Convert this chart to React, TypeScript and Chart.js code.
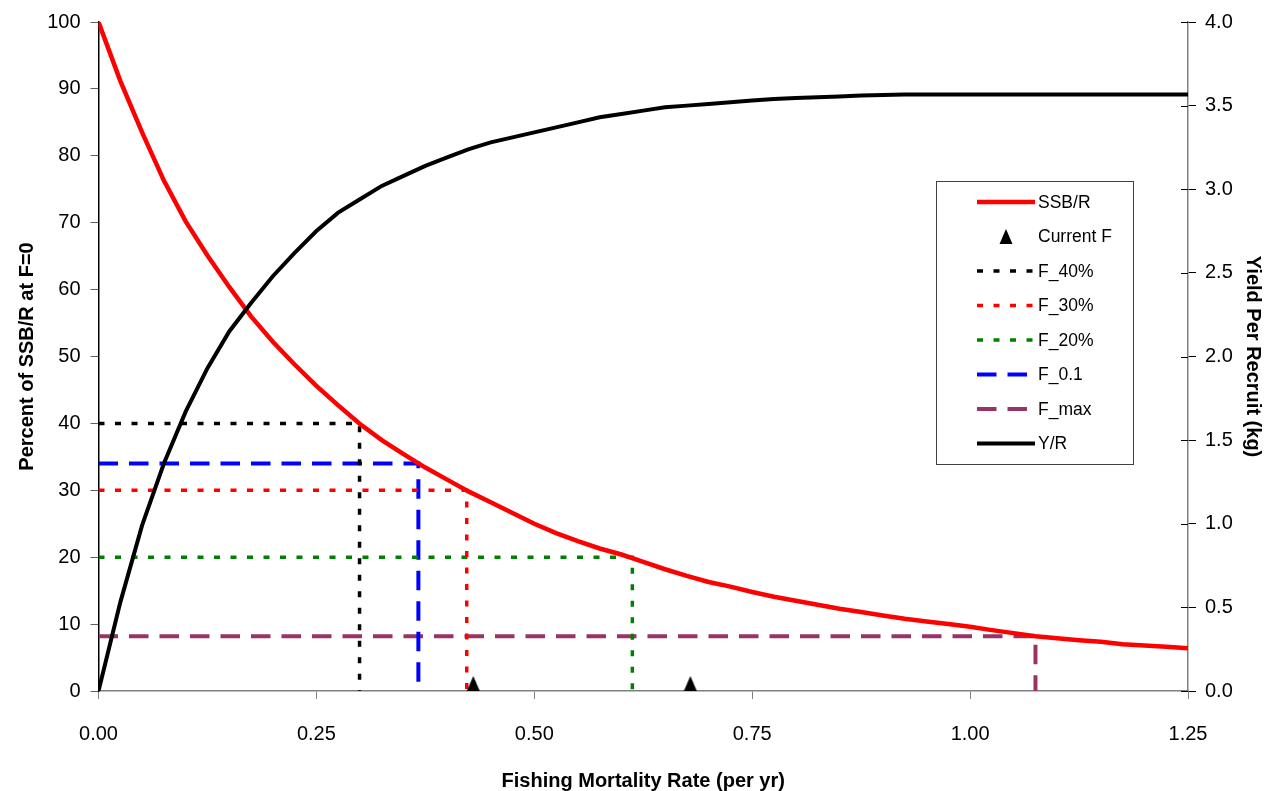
import React, { useEffect, useRef } from 'react';
import { Chart, registerables } from 'chart.js';

Chart.register(...registerables);

// ---- data ----
const F_GRID = [
  0, 0.025, 0.05, 0.075, 0.1, 0.125, 0.15, 0.175, 0.2, 0.225,
  0.25, 0.275, 0.3, 0.325, 0.35, 0.375, 0.4, 0.425, 0.45, 0.475,
  0.5, 0.525, 0.55, 0.575, 0.6, 0.625, 0.65, 0.675, 0.7, 0.725,
  0.75, 0.775, 0.8, 0.825, 0.85, 0.875, 0.9, 0.925, 0.95, 0.975,
  1.0, 1.025, 1.05, 1.075, 1.1, 1.125, 1.15, 1.175, 1.2, 1.225, 1.25,
];
const SSB_PCT = [
  100, 91.2, 83.5, 76.3, 70.2, 65.1, 60.4, 56.0, 52.2, 48.8,
  45.6, 42.7, 39.9, 37.5, 35.4, 33.4, 31.6, 29.8, 28.2, 26.6,
  25.0, 23.6, 22.4, 21.3, 20.4, 19.3, 18.2, 17.2, 16.3, 15.6,
  14.8, 14.1, 13.5, 12.9, 12.3, 11.8, 11.3, 10.8, 10.4, 10.0,
  9.6, 9.1, 8.65, 8.2, 7.9, 7.6, 7.35, 7.0, 6.8, 6.6, 6.4,
];
const YPR_KG = [
  0, 0.53, 0.99, 1.36, 1.67, 1.93, 2.15, 2.32, 2.48, 2.62,
  2.75, 2.86, 2.94, 3.02, 3.08, 3.14, 3.19, 3.24, 3.28, 3.31,
  3.34, 3.37, 3.40, 3.43, 3.45, 3.47, 3.49, 3.50, 3.51, 3.52,
  3.53, 3.54, 3.545, 3.55, 3.555, 3.56, 3.563, 3.567, 3.567, 3.567,
  3.567, 3.567, 3.567, 3.567, 3.567, 3.567, 3.567, 3.567, 3.567, 3.567, 3.567,
];
const CURRENT_F = [0.43, 0.679];
const REF_LABELS = ['F_40%', 'F_30%', 'F_20%', 'F_0.1', 'F_max'];
const REF_F = [0.2995, 0.4225, 0.6125, 0.367, 1.075];
const REF_PCT = [40, 30, 20, 34, 8.2];

// ---- styles ----
const REF_COLORS = ['#000000', '#FF0000', '#008000', '#0000FF', '#993366'];
const REF_DASH = [[6, 10.5], [6, 10.5], [6, 10.5], [19.5, 11], [19.5, 11]];
const REF_WIDTH = [3.5, 3.5, 3.5, 4, 4];

const FONT = '"Liberation Sans", Arial, sans-serif';

function makeTriangle(): HTMLCanvasElement {
  const c = document.createElement('canvas');
  c.width = 14;
  c.height = 30;
  const g = c.getContext('2d')!;
  g.fillStyle = '#000';
  g.beginPath();
  g.moveTo(7, 0);
  g.lineTo(13.5, 15);
  g.lineTo(0.5, 15);
  g.closePath();
  g.fill();
  return c;
}

const LEGEND_ROWS = [
  { label: 'SSB/R', ds: 2 },
  { label: 'Current F', ds: 0 },
  { label: 'F_40%', ds: 3 },
  { label: 'F_30%', ds: 4 },
  { label: 'F_20%', ds: 5 },
  { label: 'F_0.1', ds: 6 },
  { label: 'F_max', ds: 7 },
  { label: 'Y/R', ds: 1 },
];

const overlayPlugin = {
  id: 'overlay',
  afterDraw(chart: any) {
    const ctx: CanvasRenderingContext2D = chart.ctx;
    const y2 = chart.scales.y2;
    ctx.save();
    // inner half of right-axis tick marks
    ctx.strokeStyle = '#000';
    ctx.lineWidth = 1;
    y2.ticks.forEach((t: any) => {
      const py = Math.round(y2.getPixelForValue(t.value)) + 0.5;
      ctx.beginPath();
      ctx.moveTo(y2.left - 7, py);
      ctx.lineTo(y2.left, py);
      ctx.stroke();
    });
    // legend box
    const bx = 936.5, by = 181.5, bw = 197, bh = 283;
    ctx.fillStyle = '#fff';
    ctx.fillRect(bx, by, bw, bh);
    ctx.strokeStyle = '#404040';
    ctx.lineWidth = 1;
    ctx.strokeRect(bx, by, bw, bh);
    const rowStart = 202, rowStep = 34.5;
    ctx.font = '17.5px ' + FONT;
    ctx.textBaseline = 'middle';
    ctx.textAlign = 'left';
    LEGEND_ROWS.forEach((row, i) => {
      const ry = rowStart + i * rowStep;
      const ds: any = chart.data.datasets[row.ds];
      if (ds.showLine === false) {
        const img = ds.pointStyle as HTMLCanvasElement;
        ctx.drawImage(img, 1006 - img.width / 2, ry - 7.5);
      } else {
        ctx.strokeStyle = ds.borderColor;
        ctx.lineWidth = ds.borderWidth;
        ctx.setLineDash(ds.borderDash || []);
        ctx.beginPath();
        ctx.moveTo(977, ry);
        ctx.lineTo(1035, ry);
        ctx.stroke();
        ctx.setLineDash([]);
      }
      ctx.fillStyle = '#000';
      ctx.fillText(row.label, 1038, ry + 1);
    });
    ctx.restore();
  },
};

export default function App() {
  const ref = useRef<HTMLCanvasElement | null>(null);

  useEffect(() => {
    if (!ref.current) return;
    const tri = makeTriangle();
    const ssb = F_GRID.map((f, i) => ({ x: f, y: SSB_PCT[i] }));
    const ypr = F_GRID.map((f, i) => ({ x: f, y: YPR_KG[i] }));
    const refSets = REF_LABELS.map((lab, i) => ({
      label: lab,
      data: [
        { x: 0, y: REF_PCT[i] },
        { x: REF_F[i], y: REF_PCT[i] },
        { x: REF_F[i], y: 0 },
      ],
      borderColor: REF_COLORS[i],
      borderWidth: REF_WIDTH[i],
      borderDash: REF_DASH[i],
      borderCapStyle: 'butt',
      pointRadius: 0,
      fill: false,
      tension: 0,
      yAxisID: 'y',
    }));

    const chart = new Chart(ref.current, {
      type: 'line',
      data: {
        datasets: [
          {
            label: 'Current F',
            data: CURRENT_F.map((f) => ({ x: f, y: 0 })),
            showLine: false,
            pointStyle: tri,
            pointRadius: 8,
            yAxisID: 'y',
            clip: false,
          } as any,
          {
            label: 'Y/R',
            data: ypr,
            borderColor: '#000000',
            borderWidth: 4,
            pointRadius: 0,
            tension: 0,
            yAxisID: 'y2',
          },
          {
            label: 'SSB/R',
            data: ssb,
            borderColor: '#FF0000',
            borderWidth: 4.5,
            pointRadius: 0,
            tension: 0,
            yAxisID: 'y',
          },
          ...(refSets as any[]),
        ],
      },
      options: {
        responsive: false,
        animation: false,
        devicePixelRatio: 1,
        layout: { padding: { left: 0, right: 0, top: 20, bottom: 0 } },
        plugins: { legend: { display: false }, tooltip: { enabled: false } },
        scales: {
          x: {
            type: 'linear',
            min: 0,
            max: 1.25,
            afterFit: (s: any) => { s.height = 100; },
            ticks: {
              stepSize: 0.25,
              padding: 23,
              color: '#000',
              font: { family: FONT, size: 20 },
              callback: (v: any) => Number(v).toFixed(2),
            },
            grid: { drawOnChartArea: false, drawTicks: true, tickLength: 8, color: '#808080' },
            border: { display: true, color: '#808080', width: 1.5 },
            title: {
              display: true,
              text: 'Fishing Mortality Rate (per yr)',
              color: '#000',
              font: { family: FONT, size: 20, weight: 'bold', lineHeight: 1 },
              padding: { top: 0, bottom: 0 },
            },
          },
          y: {
            type: 'linear',
            position: 'left',
            min: 0,
            max: 100,
            afterFit: (s: any) => { s.width = 98.5; },
            ticks: {
              stepSize: 10,
              padding: 10,
              color: '#000',
              font: { family: FONT, size: 20 },
            },
            grid: { drawOnChartArea: false, drawTicks: true, tickLength: 8, color: '#606060' },
            border: { display: true, color: '#000', width: 1.5 },
            title: {
              display: true,
              text: 'Percent of SSB/R at F=0',
              color: '#000',
              font: { family: FONT, size: 20, weight: 'bold', lineHeight: 1 },
              padding: { top: 17, bottom: 0 },
            },
          },
          y2: {
            type: 'linear',
            position: 'right',
            min: 0,
            max: 4,
            afterFit: (s: any) => { s.width = 80; },
            ticks: {
              stepSize: 0.5,
              padding: 9,
              color: '#000',
              font: { family: FONT, size: 20 },
              callback: (v: any) => Number(v).toFixed(1),
            },
            grid: { drawOnChartArea: false, drawTicks: true, tickLength: 8, color: '#000' },
            border: { display: true, color: '#808080', width: 1.5 },
            title: {
              display: true,
              text: 'Yield Per Recruit (kg)',
              color: '#000',
              font: { family: FONT, size: 20, weight: 'bold', lineHeight: 1 },
              padding: { top: 5, bottom: 0 },
            },
          },
        },
      },
      plugins: [overlayPlugin],
    } as any);
    return () => chart.destroy();
  }, []);

  return (
    <div style={{ position: 'fixed', left: 0, top: 0, width: 1268, height: 791, background: '#fff' }}>
      <canvas ref={ref} width={1268} height={791} style={{ width: 1268, height: 791, display: 'block' }} />
    </div>
  );
}
